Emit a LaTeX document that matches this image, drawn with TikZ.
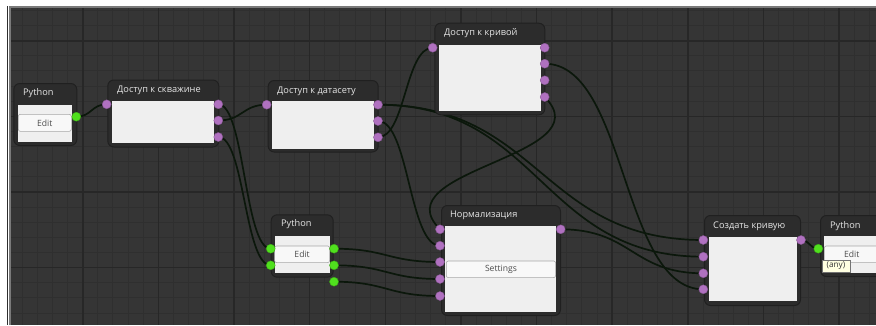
\documentclass[tikz,border=0pt]{standalone}
\usepackage{fontspec}
\setmainfont{Open Sans}
\definecolor{bgc}{HTML}{353535}
\definecolor{minorc}{HTML}{2F2F2F}
\definecolor{majorc}{HTML}{272727}
\definecolor{edgec}{HTML}{7A7A7A}
\definecolor{framec}{HTML}{2C2C2C}
\definecolor{framedraw}{HTML}{202020}
\definecolor{bodyc}{HTML}{EFEFEF}
\definecolor{portp}{HTML}{B071C0}
\definecolor{portg}{HTML}{50E01E}
\definecolor{wirec}{HTML}{0B170B}
\definecolor{titlec}{HTML}{E6E6E6}
\definecolor{btnc}{HTML}{F8F8F8}
\definecolor{btnd}{HTML}{A8A8A8}
\definecolor{tipc}{HTML}{FFFFE1}
\tikzset{
  nodeframe/.style={draw=framedraw, fill=framec, rounded corners=6pt, line width=1pt, anchor=north west, inner sep=0pt},
  nodebody/.style={fill=bodyc, draw=none, anchor=north west, inner sep=0pt},
  ntitle/.style={anchor=west, text=titlec, font=\fontsize{9.2}{10}\selectfont, inner sep=0pt},
  btn/.style={draw=btnd, fill=btnc, rounded corners=2pt, line width=0.6pt, text=black!70, font=\fontsize{8.6}{9}\selectfont, inner sep=0pt, anchor=north west},
  tipbox/.style={draw=black!55, fill=tipc, line width=0.5pt, text=black!80, font=\fontsize{8.2}{9}\selectfont, inner sep=0pt, anchor=north west},
  wire/.style={draw=wirec, line width=1.7pt},
  pport/.style={circle, fill=portp, draw=portp!75!black, line width=0.4pt, minimum size=9pt, inner sep=0pt},
  gport/.style={circle, fill=portg, draw=portg!75!black, line width=0.4pt, minimum size=9pt, inner sep=0pt},
  minorline/.style={draw=minorc, line width=1pt},
  majorline/.style={draw=majorc, line width=1.6pt},
}
\begin{document}
\begin{tikzpicture}[x=1pt, y=-1pt]
\useasboundingbox (0,0) rectangle (876,325);
\clip (0,0) rectangle (876,325);
% page and canvas
\fill[white] (0,0) rectangle (876,325);
\fill[bgc] (9,6) rectangle (876,325);
\foreach \i in {0,...,57} {\draw[minorline] ({7.05+\i*15.13},6) -- ({7.05+\i*15.13},325);}
\foreach \j in {0,...,20} {\draw[minorline] (9,{10.44+\j*15.13}) -- (876,{10.44+\j*15.13});}
\foreach \k in {0,...,10} {\draw[majorline] ({82.7+\k*75.65},6) -- ({82.7+\k*75.65},325);}
\foreach \k in {0,...,3} {\draw[majorline] (9,{40.7+\k*75.65}) -- (876,{40.7+\k*75.65});}
\draw[edgec, line width=2pt] (10,325) -- (10,7) -- (876,7);

% port positions
\coordinate (pyAo) at (76.3,116.7);
\coordinate (skI) at (106.7,104.3);
\coordinate (skA) at (218.3,104.3);
\coordinate (skB) at (218.3,120.5);
\coordinate (skC) at (218.3,137);
\coordinate (dsI) at (266.7,104.7);
\coordinate (dsA) at (378,104.7);
\coordinate (dsB) at (378,121);
\coordinate (dsC) at (378,137.3);
\coordinate (krI) at (432.7,47.7);
\coordinate (krA) at (544.7,47.7);
\coordinate (krB) at (544.7,63.7);
\coordinate (krC) at (544.7,80.3);
\coordinate (krD) at (544.7,97);
\coordinate (pyBiA) at (270.7,248.7);
\coordinate (pyBiB) at (270.7,265.3);
\coordinate (pyBoA) at (334,248.7);
\coordinate (pyBoB) at (334,265.3);
\coordinate (pyBoC) at (334,281.7);
\coordinate (nmA) at (440,229.3);
\coordinate (nmB) at (440,245.7);
\coordinate (nmC) at (440,262);
\coordinate (nmD) at (440,279);
\coordinate (nmE) at (440,296);
\coordinate (nmO) at (560.7,229.3);
\coordinate (scA) at (703.3,240);
\coordinate (scB) at (703.3,256.7);
\coordinate (scC) at (703.3,273.3);
\coordinate (scD) at (703.3,289.3);
\coordinate (scO) at (801,240);
\coordinate (pyCi) at (818.3,248.7);

% wires
\draw[wire] (pyAo) .. controls +(15.2,0) and +(-15.2,0) .. (skI);
\draw[wire] (skA) .. controls +(26.2,0) and +(-26.2,0) .. (pyBiA);
\draw[wire] (skC) .. controls +(26.2,0) and +(-26.2,0) .. (pyBiB);
\draw[wire] (skB) .. controls +(24.2,0) and +(-24.2,0) .. (dsI);
\draw[wire] (dsA) .. controls +(162.7,0) and +(-162.7,0) .. (scA);
\draw[wire] (dsA) .. controls +(162.7,0) and +(-162.7,0) .. (scB);
\draw[wire] (dsB) .. controls +(31,0) and +(-31,0) .. (nmB);
\draw[wire] (dsC) .. controls +(27.4,0) and +(-27.4,0) .. (krI);
\draw[wire] (krB) .. controls +(82,0) and +(-82,0) .. (scD);
\draw[wire] (krD) .. controls +(60,60) and +(-60,-60) .. (nmA);
\draw[wire] (pyBoA) .. controls +(53,0) and +(-53,0) .. (nmC);
\draw[wire] (pyBoB) .. controls +(53,0) and +(-53,0) .. (nmD);
\draw[wire] (pyBoC) .. controls +(53,0) and +(-53,0) .. (nmE);
\draw[wire] (nmO) .. controls +(71.3,0) and +(-71.3,0) .. (scC);
\draw[wire] (scO) .. controls +(8.7,0) and +(-8.7,0) .. (pyCi);

% Python 1
\node[nodeframe, minimum width=63pt, minimum height=62pt] (pyA) at (13.3,83) {};
\node[nodebody, minimum width=54pt, minimum height=37pt] (pyAb) at (17.5,105) {};
\node[btn, minimum width=53pt, minimum height=17pt] (pyAe) at (18,114) {Edit};
\node[ntitle] (pyAt) at (23,93.5) {Python};
% Доступ к скважине
\node[nodeframe, minimum width=111pt, minimum height=67pt] (sk) at (107.3,79.5) {};
\node[nodebody, minimum width=102pt, minimum height=41.7pt] (skb) at (111.7,101) {};
\node[ntitle] (skt) at (117,90) {Доступ к скважине};
% Доступ к датасету
\node[nodeframe, minimum width=110pt, minimum height=71.5pt] (ds) at (267.7,80) {};
\node[nodebody, minimum width=102.3pt, minimum height=47.3pt] (dsb) at (271.7,101) {};
\node[ntitle] (dst) at (277,91) {Доступ к датасету};
% Доступ к кривой
\node[nodeframe, minimum width=110pt, minimum height=91.6pt] (kr) at (434.3,22.7) {};
\node[nodebody, minimum width=102.7pt, minimum height=66.7pt] (krb) at (438.3,44.3) {};
\node[ntitle] (krt) at (444,33) {Доступ к кривой};
% Python 2
\node[nodeframe, minimum width=62pt, minimum height=62.4pt] (pyB) at (270.7,214.3) {};
\node[nodebody, minimum width=55pt, minimum height=36.7pt] (pyBb) at (274.3,236) {};
\node[btn, minimum width=55pt, minimum height=16.6pt] (pyBe) at (274.3,245.7) {Edit};
\node[ntitle] (pyBt) at (281,224.5) {Python};
% Нормализация
\node[nodeframe, minimum width=119pt, minimum height=110pt] (nm) at (441,205) {};
\node[nodebody, minimum width=111pt, minimum height=85.7pt] (nmb) at (445,226) {};
\node[btn, minimum width=109.3pt, minimum height=16.6pt] (nms) at (446,260.7) {Settings};
\node[ntitle] (nmt) at (450,215) {Нормализация};
% Создать кривую
\node[nodeframe, minimum width=96pt, minimum height=90pt] (sc) at (704,215) {};
\node[nodebody, minimum width=88.4pt, minimum height=64.3pt] (scb) at (708.3,236.7) {};
\node[ntitle] (sct) at (713,226) {Создать кривую};
% Python 3
\node[nodeframe, minimum width=62pt, minimum height=61pt] (pyC) at (820,215) {};
\node[nodebody, minimum width=55pt, minimum height=36.7pt] (pyCb) at (823.3,236) {};
\node[btn, minimum width=55pt, minimum height=16.6pt] (pyCe) at (824,245.7) {Edit};
\node[ntitle] (pyCt) at (830,226) {Python};

% ports
\foreach \p in {skI,skA,skB,skC,dsI,dsA,dsB,dsC,krI,krA,krB,krC,krD,nmA,nmB,nmC,nmD,nmE,nmO,scA,scB,scC,scD,scO}
  {\node[pport] (P\p) at (\p) {};}
\foreach \p in {pyAo,pyBiA,pyBiB,pyBoA,pyBoB,pyBoC,pyCi}
  {\node[gport] (P\p) at (\p) {};}

% tooltip
\node[tipbox, minimum width=27.5pt, minimum height=11.5pt] (tip) at (822,260) {(any)};
\end{tikzpicture}
\end{document}
